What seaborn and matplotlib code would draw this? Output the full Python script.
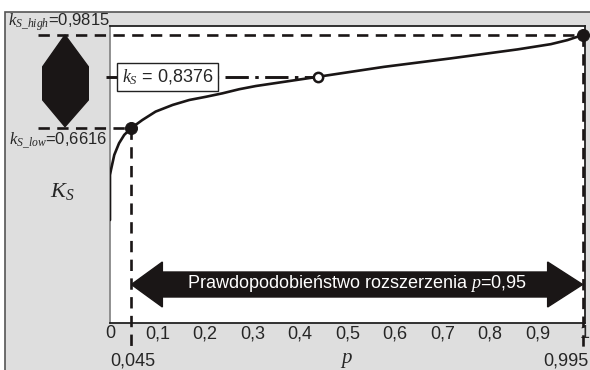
import matplotlib
matplotlib.use("Agg")
import matplotlib.pyplot as plt
from matplotlib.patches import Polygon, Rectangle
from matplotlib.transforms import blended_transform_factory
import seaborn as sns
import pandas as pd

# ---- data ----
p_curve = [0.0, 0.0, 0.002, 0.009, 0.019, 0.030, 0.045, 0.068, 0.096, 0.132, 0.167,
           0.202, 0.237, 0.272, 0.307, 0.437, 0.577, 0.717, 0.858, 0.928, 0.963, 0.985, 0.995]
ks_curve = [0.345, 0.50, 0.517, 0.569, 0.609, 0.638, 0.6616, 0.689, 0.718, 0.741, 0.758,
            0.769, 0.781, 0.795, 0.806, 0.8376, 0.872, 0.901, 0.932, 0.950, 0.964, 0.976, 0.9815]
p_low, p_high = 0.045, 0.995
k_low, k_high = 0.6616, 0.9815
p_mid, k_mid = 0.437, 0.8376
xtick_vals = [0, 0.1, 0.2, 0.3, 0.4, 0.5, 0.6, 0.7, 0.8, 0.9, 1.0]
xtick_labels = ["0", "0,1", "0,2", "0,3", "0,4", "0,5", "0,6", "0,7", "0,8", "0,9", "1"]

sns.set_style("white")
plt.rcParams["font.family"] = ["Liberation Sans", "DejaVu Sans"]
plt.rcParams["mathtext.fontset"] = "custom"
plt.rcParams["mathtext.it"] = "Liberation Serif:italic"
plt.rcParams["mathtext.rm"] = "Liberation Serif"

W, H = 590, 370
fig = plt.figure(figsize=(W / 100, H / 100), dpi=100, facecolor="white")

def fx(px):
    return px / W

def fy(py):
    return 1 - py / H

GRAY = "#dedede"
DARK = "#1a1616"

# gray panel with border
fig.patches.append(Rectangle((fx(5), -0.01), 1 - fx(5) + 0.01, fy(12) + 0.01, transform=fig.transFigure,
                             facecolor=GRAY, edgecolor="#555555", lw=1.2, zorder=-1))

ax = fig.add_axes([fx(110), fy(323.3), fx(585) - fx(110), fy(26) - fy(323.3)])
ax.set_facecolor("white")
ax.set_xlim(0, 1)
ax.set_ylim(-0.0103, 1.0125)
for s in ["top", "right", "bottom"]:
    ax.spines[s].set_color("#222222")
    ax.spines[s].set_linewidth(1.3)
ax.spines["left"].set_color("#888888")
ax.spines["left"].set_linewidth(1.3)

df = pd.DataFrame({"p": p_curve, "ks": ks_curve})
sns.lineplot(data=df, x="p", y="ks", sort=False, estimator=None, color=DARK, lw=1.9, ax=ax, zorder=5)

ax.set_xticks(xtick_vals)
ax.set_xticklabels(xtick_labels, fontsize=13)
ax.tick_params(axis="x", direction="in", length=4, width=1.3, pad=1.5, color="#222222")
ax.set_yticks([])
ax.set_xlabel("")
ax.set_ylabel("")

dash = (0, (4.3, 2.8))
xl = (37 - 109.2) / 475
ybot = 0.9815 - (348 - 35) / 290.7
ax.plot([xl, p_high], [k_high, k_high], ls=dash, color=DARK, lw=1.9, clip_on=False, zorder=4)
ax.plot([xl, p_low], [k_low, k_low], ls=dash, color=DARK, lw=1.9, clip_on=False, zorder=4)
ax.plot([p_low, p_low], [k_low, ybot], ls=dash, color=DARK, lw=1.9, clip_on=False, zorder=4)
ax.plot([p_high, p_high], [k_high, ybot], ls=dash, color=DARK, lw=1.9, clip_on=False, zorder=4)
ax.plot([(105 - 109.2) / 475, p_mid], [k_mid, k_mid], ls=(0, (8.0, 2.2, 1.2, 2.2)),
        color=DARK, lw=2.1, clip_on=False, zorder=4)

sns.scatterplot(x=[p_low, p_high], y=[k_low, k_high], color=DARK, s=75, edgecolor=DARK,
                ax=ax, zorder=6, clip_on=False)
sns.scatterplot(x=[p_mid], y=[k_mid], color="white", s=45, edgecolor=DARK, linewidth=1.8,
                ax=ax, zorder=6)

# diamond (range indicator)
dia = [(65, 35), (88.3, 66.7), (88.3, 100), (65, 126.7), (42.7, 100), (42.7, 66.7)]
fig.patches.append(Polygon([(fx(a), fy(b)) for a, b in dia], closed=True, transform=fig.transFigure,
                           facecolor=DARK, edgecolor=DARK, zorder=3))

# texts on the left
fig.text(fx(8), fy(22), r"$k_{S\_high}$=0,9815", ha="left", va="center", fontsize=12)
fig.text(fx(9), fy(141), r"$k_{S\_low}$=0,6616", ha="left", va="center", fontsize=12)
fig.text(fx(62), fy(192), r"$K_S$", ha="center", va="center", fontsize=16)

# value box
ax.text((167 - 109.2) / 475, k_mid, r"$k_S$ = 0,8376", ha="center", va="center",
        fontsize=13, zorder=7,
        bbox=dict(boxstyle="square,pad=0.25", facecolor="white", edgecolor="#222222", lw=1.0))

# extra labels below
fig.text(fx(133), fy(361), "0,045", ha="center", va="center", fontsize=13)
fig.text(fx(589), fy(361), "0,995", ha="right", va="center", fontsize=13)
fig.text(fx(347), fy(360), r"$p$", ha="center", va="center", fontsize=15)

# double arrow across the probability range
tr = blended_transform_factory(ax.transData, ax.transAxes)
def ay(py):
    return (323.3 - py) / (323.3 - 26)
hl_l = 31 / 475
hl_r = 35 / 475
arrow = [(p_low, ay(284.5)), (p_low + hl_l, ay(262)), (p_low + hl_l, ay(272)),
         (p_high - hl_r, ay(272)), (p_high - hl_r, ay(262)), (p_high, ay(284.5)),
         (p_high - hl_r, ay(307)), (p_high - hl_r, ay(297)), (p_low + hl_l, ay(297)),
         (p_low + hl_l, ay(307))]
ax.add_patch(Polygon(arrow, closed=True, transform=tr, facecolor=DARK, edgecolor=DARK, zorder=3))
ax.text((356 - 109.2) / 475, ay(284), r"Prawdopodobieństwo rozszerzenia $p$=0,95",
        transform=tr, ha="center", va="center", color="white", fontsize=13, zorder=4)

fig.savefig("out.png", dpi=100)
